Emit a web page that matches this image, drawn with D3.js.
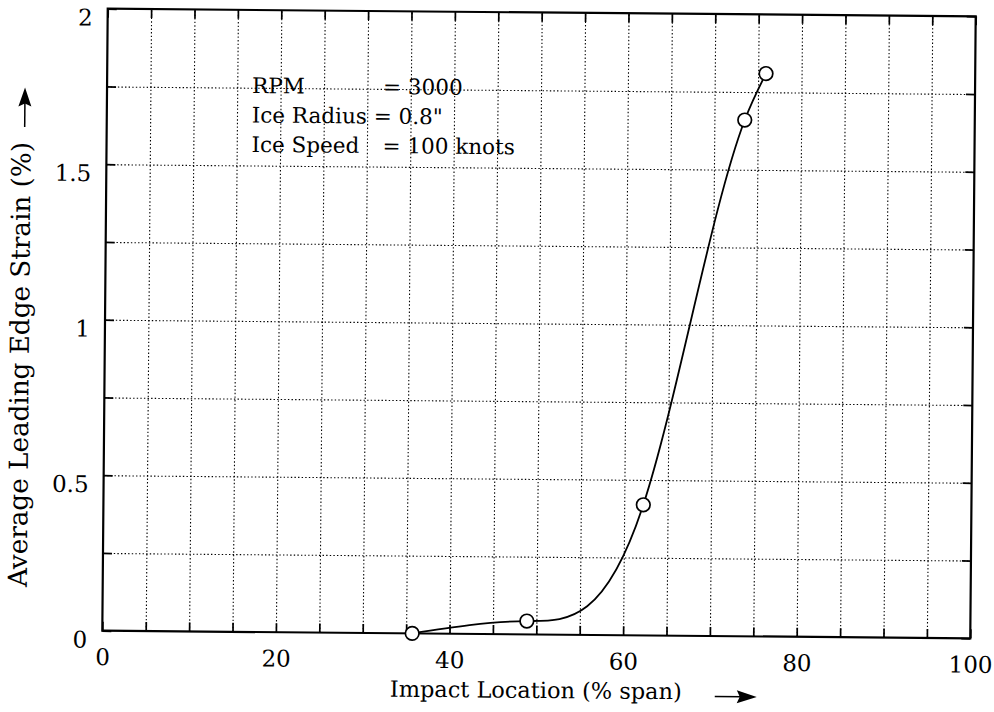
<!DOCTYPE html>
<html>
<head>
<meta charset="utf-8">
<script src="https://cdn.jsdelivr.net/npm/d3@7"></script>
<style>
  html, body { margin: 0; padding: 0; background: #fff; }
  svg { display: block; }
  text { font-family: "DejaVu Serif", "Liberation Serif", serif; fill: #000; }
</style>
</head>
<body>
<svg id="chart" width="994" height="712"></svg>
<script>
// ---- data ----
const impactLocation = [35.7, 48.9, 62.2, 73.5, 75.9];      // % span
const leadingEdgeStrain = [0.0, 0.043, 0.42, 1.66, 1.81];   // %
const xTickValues = [0, 20, 40, 60, 80, 100];
const xTickLabels = ["0", "20", "40", "60", "80", "100"];
const yTickValues = [0, 0.5, 1, 1.5, 2];
const yTickLabels = ["0", "0.5", "1", "1.5", "2"];
const xGridValues = d3.range(0, 101, 5);
const yGridValues = d3.range(0, 2.001, 0.25);
const annotationLabels = ["RPM", "Ice Radius", "Ice Speed"];
const annotationValues = ["= 3000", "= 0.8\"", "= 100 knots"];
const xTitle = "Impact Location (% span)";
const yTitle = "Average Leading Edge Strain (%)";

// ---- layout ----
const L = 105, R = 973, T = 12.5, B = 634.5;
const W = R - L, H = B - T;
const svg = d3.select("#chart");
const g = svg.append("g").attr("transform", "rotate(0.5,539,323.5)");

const x = d3.scaleLinear().domain([0, 100]).range([L, R]);
const y = d3.scaleLinear().domain([0, 2]).range([B, T]);

// grid (dotted)
const gridStyle = sel => {
  sel.select(".domain").remove();
  sel.selectAll(".tick line").attr("stroke", "#000").attr("stroke-width", 1.1)
     .attr("stroke-dasharray", "1.4,2.2");
  sel.selectAll(".tick text").remove();
};
g.append("g").attr("transform", `translate(0,${B})`)
  .call(d3.axisBottom(x).tickValues(xGridValues.filter(v => v > 0 && v < 100)).tickSize(-H).tickFormat(""))
  .call(gridStyle);
g.append("g").attr("transform", `translate(${L},0)`)
  .call(d3.axisLeft(y).tickValues(yGridValues.filter(v => v > 0 && v < 2)).tickSize(-W).tickFormat(""))
  .call(gridStyle);

// inward tick marks on all four sides
const tickStyle = sel => {
  sel.select(".domain").remove();
  sel.selectAll(".tick line").attr("stroke", "#000").attr("stroke-width", 1.7);
  sel.selectAll(".tick text").remove();
};
const tl = 9;
g.append("g").attr("transform", `translate(0,${B})`)
  .call(d3.axisBottom(x).tickValues(xGridValues).tickSize(-tl).tickFormat("")).call(tickStyle);
g.append("g").attr("transform", `translate(0,${T})`)
  .call(d3.axisTop(x).tickValues(xGridValues).tickSize(-tl).tickFormat("")).call(tickStyle);
g.append("g").attr("transform", `translate(${L},0)`)
  .call(d3.axisLeft(y).tickValues(yGridValues).tickSize(-tl).tickFormat("")).call(tickStyle);
g.append("g").attr("transform", `translate(${R},0)`)
  .call(d3.axisRight(y).tickValues(yGridValues).tickSize(-tl).tickFormat("")).call(tickStyle);

// frame
g.append("rect").attr("x", L).attr("y", T).attr("width", W).attr("height", H)
  .attr("fill", "none").attr("stroke", "#000").attr("stroke-width", 2.2);

// tick labels via axes
const labelStyle = sel => {
  sel.select(".domain").remove();
  sel.selectAll(".tick line").remove();
  sel.selectAll(".tick text").style("font-family", '"DejaVu Serif", serif')
     .style("font-size", "23px").attr("fill", "#000");
};
g.append("g").attr("transform", `translate(0,${B})`)
  .call(d3.axisBottom(x).tickValues(xTickValues).tickSize(0).tickPadding(18)
        .tickFormat((d, i) => xTickLabels[i]))
  .call(labelStyle);
g.append("g").attr("transform", `translate(${L},0)`)
  .call(d3.axisLeft(y).tickValues(yTickValues).tickSize(0).tickPadding(15)
        .tickFormat((d, i) => yTickLabels[i]))
  .call(labelStyle)
  .selectAll(".tick text").attr("dy", "0.72em");

// natural cubic spline y(x) curve
function curveNaturalX(context) {
  let pts = [];
  return {
    areaStart() {}, areaEnd() {},
    lineStart() { pts = []; },
    point(px, py) { pts.push([+px, +py]); },
    lineEnd() {
      const n = pts.length;
      if (n === 0) return;
      context.moveTo(pts[0][0], pts[0][1]);
      if (n === 1) return;
      const h = [], s = [];
      for (let i = 0; i < n - 1; i++) {
        h.push(pts[i + 1][0] - pts[i][0]);
        s.push((pts[i + 1][1] - pts[i][1]) / h[i]);
      }
      const M = new Array(n).fill(0);
      if (n > 2) {
        const m = n - 2, a = [], b = [], c = [], d = [];
        for (let i = 1; i <= m; i++) {
          a.push(h[i - 1]); b.push(2 * (h[i - 1] + h[i])); c.push(h[i]);
          d.push(6 * (s[i] - s[i - 1]));
        }
        for (let i = 1; i < m; i++) {
          const w = a[i] / b[i - 1];
          b[i] -= w * c[i - 1]; d[i] -= w * d[i - 1];
        }
        const sol = new Array(m);
        sol[m - 1] = d[m - 1] / b[m - 1];
        for (let i = m - 2; i >= 0; i--) sol[i] = (d[i] - c[i] * sol[i + 1]) / b[i];
        for (let i = 0; i < m; i++) M[i + 1] = sol[i];
      }
      for (let i = 0; i < n - 1; i++) {
        const d0 = s[i] - h[i] * (2 * M[i] + M[i + 1]) / 6;
        const d1 = s[i] + h[i] * (M[i] + 2 * M[i + 1]) / 6;
        const x0 = pts[i][0], y0 = pts[i][1], x1 = pts[i + 1][0], y1 = pts[i + 1][1];
        context.bezierCurveTo(x0 + h[i] / 3, y0 + d0 * h[i] / 3,
                              x1 - h[i] / 3, y1 - d1 * h[i] / 3, x1, y1);
      }
    }
  };
}

const data = impactLocation.map((v, i) => ({ x: v, y: leadingEdgeStrain[i] }));
const line = d3.line().x(d => x(d.x)).y(d => y(d.y)).curve(curveNaturalX);
g.append("path").datum(data).attr("d", line)
  .attr("fill", "none").attr("stroke", "#000").attr("stroke-width", 1.8);

g.selectAll("circle.pt").data(data).join("circle").attr("class", "pt")
  .attr("cx", d => x(d.x)).attr("cy", d => y(d.y)).attr("r", 6.8)
  .attr("fill", "#fff").attr("stroke", "#000").attr("stroke-width", 1.7);

// fit helper
function fitWidth(sel, target) {
  const len = sel.node().getComputedTextLength();
  const fs = parseFloat(sel.style("font-size"));
  sel.style("font-size", (fs * target / len) + "px");
}

// annotation
const ann = g.append("g").style("font-size", "21.5px");
const annX = [381, 372, 381];
annotationLabels.forEach((t, i) => {
  ann.append("text").attr("x", 250).attr("y", 95.5 + i * 29.5).text(t);
  ann.append("text").attr("x", annX[i]).attr("y", 95.5 + i * 29.5).text(annotationValues[i]);
});

// axis titles
const xt = g.append("text").attr("x", 539).attr("y", 698).attr("text-anchor", "middle")
  .style("font-size", "21px").text(xTitle);
fitWidth(xt, 292);
const yt = g.append("text").attr("transform", "translate(29,369) rotate(-90)")
  .attr("text-anchor", "middle").style("font-size", "21px").text(yTitle);
fitWidth(yt, 445);

// arrows
// y arrow (pointing up)
g.append("line").attr("x1", 23).attr("x2", 23).attr("y1", 131.5).attr("y2", 105)
  .attr("stroke", "#000").attr("stroke-width", 1.5);
g.append("path").attr("d", "M23,92 L29.5,111 L23,108 L16.5,111 Z").attr("fill", "#000");
// x arrow (pointing right)
g.append("line").attr("x1", 718).attr("x2", 746).attr("y1", 695).attr("y2", 695)
  .attr("stroke", "#000").attr("stroke-width", 1.5);
g.append("path").attr("d", "M760,695 L740,688.5 L743,695 L740,701.5 Z").attr("fill", "#000");
</script>
</body>
</html>
